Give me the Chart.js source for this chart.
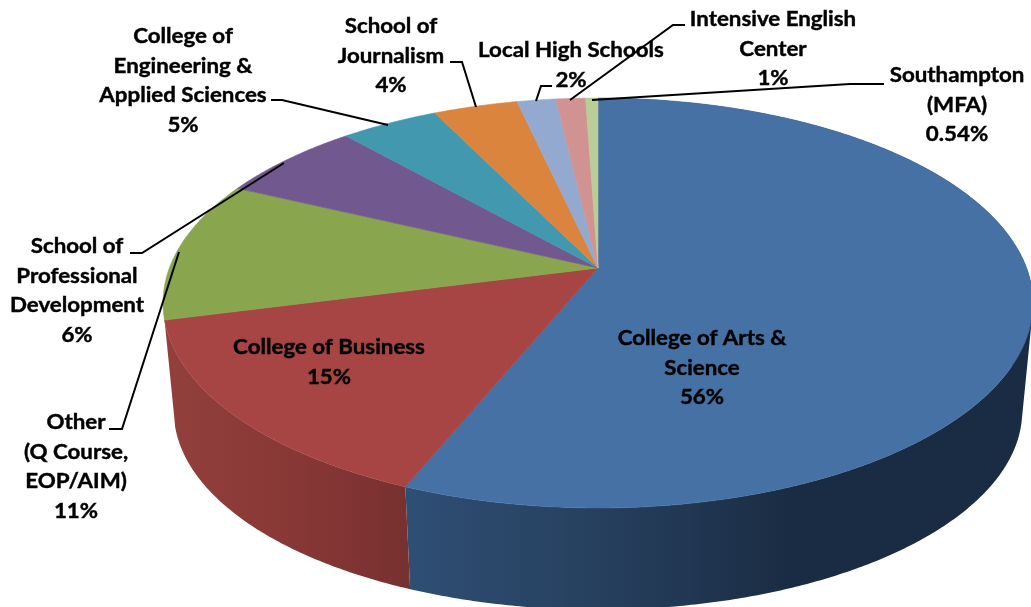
<!DOCTYPE html>
<html>
<head>
<meta charset="utf-8">
<title>Enrollment by school</title>
<script src="https://cdn.jsdelivr.net/npm/chart.js@4"></script>
<style>
  html, body { margin: 0; padding: 0; background: #fff; overflow: hidden; }
  #wrap { position: relative; width: 1031px; height: 607px; }
</style>
</head>
<body>
<div id="wrap"><canvas id="pie"></canvas></div>
<script>
const categories = [
    'College of Arts &\nScience',
    'College of Business',
    'Other\n(Q Course,\nEOP/AIM)',
    'School of\nProfessional\nDevelopment',
    'College of\nEngineering &\nApplied Sciences',
    'School of\nJournalism',
    'Local High Schools',
    'Intensive English\nCenter',
    'Southampton\n(MFA)'
];
const shares = [56.2, 14.8, 11.1, 6.4, 4.3, 3.7, 1.7, 1.3, 0.54];
const shareLabels = ['56%', '15%', '11%', '6%', '5%', '4%', '2%', '1%', '0.54%'];
const faceColors = ['#4571a5', '#a64543', '#89a54e', '#71588f', '#4298af', '#db843d', '#93a9cf', '#d19392', '#b9cd96'];

// wall shading, left to right. only the two front slices show a wall
const wallColors = {
    0: [[400, '#2f4f75'], [640, '#243c59'], [790, '#1a2c43'], [1031, '#1a2c43']],
    1: [[165, '#93403d'], [300, '#873735'], [408, '#773130']]
};

// where each label sits: centre x, y of first line
const labelPos = [[702, 339], [329, 348], [76, 423], [77, 247], [183, 37], [391, 27], [571, 51], [773, 20], [957, 76]];
const lineHeight = 29.5;

// leader lines, index follows categories
const leaders = {
    2: [[109, 429], [122, 429], [179, 252]],
    3: [[130, 253], [142, 253], [284, 163]],
    4: [[271, 100], [282, 100], [388, 125]],
    5: [[450, 62], [462, 62], [476, 107]],
    6: [[552, 86], [541, 86], [536, 101]],
    7: [[685, 25], [673, 25], [570, 100]],
    8: [[884, 84], [850, 84], [592, 100]]
};

// perspective of the disc: top face and the rim below it
const topFace = { cx: 598, cy: 268, a: 428.6, b: 199, k: -0.1707 };
const bottomFace = { cx: 598, cy: 377, a: 418, b: 193, k: -0.1707 };

function project(face, angle, r) {
    const u = Math.cos(angle) * r, v = Math.sin(angle) * r;
    const d = 1 + face.k * v;
    return [face.cx + face.a * u / d, face.cy + face.b * v / d];
}

function tracePath(ctx, face, from, to) {
    const steps = Math.max(2, Math.ceil(Math.abs(to - from) / 0.008));
    for (let s = 0; s <= steps; s++) {
        const p = project(face, from + (to - from) * s / steps, 1);
        ctx.lineTo(p[0], p[1]);
    }
}

// wall as thin quads in one path. top and bottom rim cross over at the sides of
// the disc, so every quad gets the same winding or the nonzero fill leaves holes
function drawWall(ctx, arc, paint) {
    const steps = Math.ceil((arc.endAngle - arc.startAngle) / 0.008);
    ctx.beginPath();
    for (let s = 0; s < steps; s++) {
        const a0 = arc.startAngle + (arc.endAngle - arc.startAngle) * s / steps;
        const a1 = arc.startAngle + (arc.endAngle - arc.startAngle) * (s + 1) / steps;
        const quad = [project(topFace, a0, 1), project(topFace, a1, 1), project(bottomFace, a1, 1), project(bottomFace, a0, 1)];
        let area = 0;
        quad.forEach((p, n) => {
            const q = quad[(n + 1) % 4];
            area += p[0] * q[1] - q[0] * p[1];
        });
        if (area < 0) quad.reverse();
        quad.forEach((p, n) => n ? ctx.lineTo(p[0], p[1]) : ctx.moveTo(p[0], p[1]));
        ctx.closePath();
    }
    ctx.fillStyle = paint;
    ctx.fill('nonzero');
}

const pie3d = {
    id: 'pie3d',
    beforeDatasetDraw(chart, args) {
        const ctx = chart.ctx;
        const arcs = args.meta.data;
        ctx.save();

        // walls first, the top face then hides what is behind it
        arcs.forEach((arc, i) => {
            const stops = wallColors[i];
            if (!stops) return;
            const x0 = stops[0][0], x1 = stops[stops.length - 1][0];
            const grad = ctx.createLinearGradient(x0, 0, x1, 0);
            stops.forEach(st => grad.addColorStop((st[0] - x0) / (x1 - x0), st[1]));
            drawWall(ctx, arc, grad);
        });

        arcs.forEach((arc, i) => {
            ctx.beginPath();
            ctx.moveTo(topFace.cx, topFace.cy);
            tracePath(ctx, topFace, arc.startAngle, arc.endAngle);
            ctx.closePath();
            ctx.fillStyle = faceColors[i];
            ctx.strokeStyle = faceColors[i];
            ctx.lineWidth = 0.6;
            ctx.fill();
            ctx.stroke();
        });

        ctx.restore();
        return false; // the library's flat circle is replaced by the drawing above
    },
    afterDatasetsDraw(chart) {
        const ctx = chart.ctx;
        ctx.save();
        ctx.strokeStyle = '#000';
        ctx.lineWidth = 2;
        Object.values(leaders).forEach(pts => {
            ctx.beginPath();
            pts.forEach((p, n) => n ? ctx.lineTo(p[0], p[1]) : ctx.moveTo(p[0], p[1]));
            ctx.stroke();
        });

        ctx.fillStyle = '#000';
        ctx.strokeStyle = '#000';
        ctx.lineWidth = 0.4;
        ctx.font = 'bold 20px Lato';
        ctx.textAlign = 'center';
        ctx.textBaseline = 'middle';
        categories.forEach((name, i) => {
            const lines = name.split('\n').concat(shareLabels[i]);
            lines.forEach((line, n) => {
                ctx.save();
                ctx.translate(labelPos[i][0], labelPos[i][1] + n * lineHeight);
                ctx.scale(1.115, 1); // the reference text is wider than Lato
                ctx.fillText(line, 0, 0);
                ctx.strokeText(line, 0, 0);
                ctx.restore();
            });
        });
        ctx.restore();
    }
};

new Chart(document.getElementById('pie'), {
    type: 'pie',
    data: {
        labels: categories,
        datasets: [{ data: shares, backgroundColor: faceColors, borderWidth: 0 }]
    },
    options: {
        responsive: true,
        maintainAspectRatio: false,
        animation: false,
        plugins: { legend: { display: false }, tooltip: { enabled: false } }
    },
    plugins: [pie3d]
});
</script>
</body>
</html>
